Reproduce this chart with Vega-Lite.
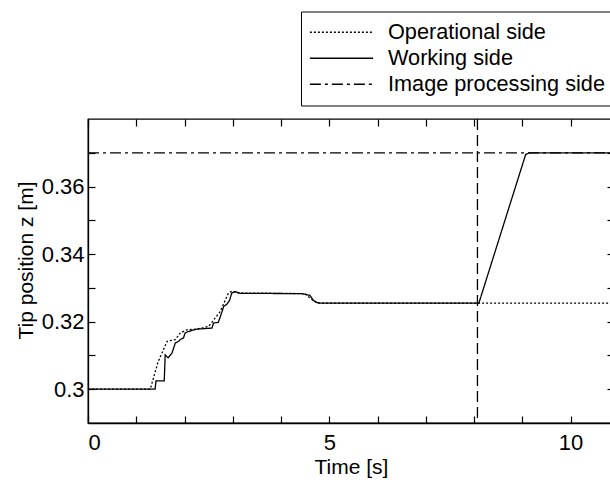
{
  "$schema": "https://vega.github.io/schema/vega-lite/v6.json",
  "autosize": "none",
  "width": 526,
  "height": 304,
  "padding": {"left": 88, "top": 119, "right": 0, "bottom": 59},
  "background": "white",
  "config": {
    "font": "Liberation Sans",
    "view": {"stroke": "black", "strokeWidth": 1.3},
    "axis": {
      "domainColor": "black", "domainWidth": 1.3,
      "tickColor": "black", "tickWidth": 1.2, "tickSize": -7,
      "labelColor": "black", "labelFont": "Liberation Sans", "labelFontSize": 22,
      "titleColor": "black", "titleFont": "Liberation Sans", "titleFontSize": 21, "titleFontWeight": "normal",
      "grid": false
    },
    "legend": {
      "orient": "none", "legendX": 213, "legendY": -107.5,
      "strokeColor": "black", "fillColor": "white", "padding": 8,
      "symbolType": "stroke", "symbolSize": 4000, "clipHeight": 25.5,
      "symbolStrokeColor": "black", "symbolStrokeWidth": 1.3,
      "labelFont": "Liberation Sans", "labelFontSize": 21.7, "labelColor": "black",
      "labelLimit": 400, "labelOffset": 14, "rowPadding": 0
    }
  },
  "datasets": {
    "main": [
      {"s": "Working side", "t": 0, "z": 0.3},
      {"s": "Working side", "t": 1.39, "z": 0.3},
      {"s": "Working side", "t": 1.41, "z": 0.3025},
      {"s": "Working side", "t": 1.58, "z": 0.3025},
      {"s": "Working side", "t": 1.6, "z": 0.3102},
      {"s": "Working side", "t": 1.66, "z": 0.3093},
      {"s": "Working side", "t": 1.74, "z": 0.3107},
      {"s": "Working side", "t": 1.81, "z": 0.3137},
      {"s": "Working side", "t": 1.88, "z": 0.3142},
      {"s": "Working side", "t": 1.91, "z": 0.3147},
      {"s": "Working side", "t": 1.98, "z": 0.3152},
      {"s": "Working side", "t": 2.01, "z": 0.3166},
      {"s": "Working side", "t": 2.08, "z": 0.3171},
      {"s": "Working side", "t": 2.26, "z": 0.3178},
      {"s": "Working side", "t": 2.57, "z": 0.3181},
      {"s": "Working side", "t": 2.6, "z": 0.3196},
      {"s": "Working side", "t": 2.7, "z": 0.3198},
      {"s": "Working side", "t": 2.77, "z": 0.3226},
      {"s": "Working side", "t": 2.81, "z": 0.3245},
      {"s": "Working side", "t": 2.88, "z": 0.3252},
      {"s": "Working side", "t": 2.93, "z": 0.3262},
      {"s": "Working side", "t": 2.98, "z": 0.3285},
      {"s": "Working side", "t": 3.05, "z": 0.3289},
      {"s": "Working side", "t": 3.15, "z": 0.3284},
      {"s": "Working side", "t": 4.43, "z": 0.3283},
      {"s": "Working side", "t": 4.6, "z": 0.3278},
      {"s": "Working side", "t": 4.67, "z": 0.3263},
      {"s": "Working side", "t": 4.74, "z": 0.3257},
      {"s": "Working side", "t": 4.8, "z": 0.3255},
      {"s": "Working side", "t": 8.1, "z": 0.3255},
      {"s": "Working side", "t": 9.07, "z": 0.3695},
      {"s": "Working side", "t": 9.15, "z": 0.37},
      {"s": "Working side", "t": 10.9, "z": 0.37},
      {"s": "Operational side", "t": 0, "z": 0.3},
      {"s": "Operational side", "t": 1.29, "z": 0.3},
      {"s": "Operational side", "t": 1.45, "z": 0.308},
      {"s": "Operational side", "t": 1.64, "z": 0.3142},
      {"s": "Operational side", "t": 1.81, "z": 0.3147},
      {"s": "Operational side", "t": 1.91, "z": 0.3166},
      {"s": "Operational side", "t": 2.05, "z": 0.3176},
      {"s": "Operational side", "t": 2.26, "z": 0.3178},
      {"s": "Operational side", "t": 2.5, "z": 0.3186},
      {"s": "Operational side", "t": 2.74, "z": 0.323},
      {"s": "Operational side", "t": 2.91, "z": 0.3285},
      {"s": "Operational side", "t": 2.98, "z": 0.329},
      {"s": "Operational side", "t": 3.1, "z": 0.3285},
      {"s": "Operational side", "t": 4.5, "z": 0.3283},
      {"s": "Operational side", "t": 4.6, "z": 0.327},
      {"s": "Operational side", "t": 4.75, "z": 0.3255},
      {"s": "Operational side", "t": 10.9, "z": 0.3255}
    ],
    "image": [
      {"s": "Image processing side", "t": 0, "z": 0.37},
      {"s": "Image processing side", "t": 10.9, "z": 0.37}
    ],
    "vline": [
      {"t": 8.07}
    ]
  },
  "resolve": {"axis": {"x": "independent", "y": "independent"}},
  "layer": [
    {
      "data": {"name": "main"},
      "mark": {"type": "line", "strokeWidth": 1.3, "color": "black", "clip": true},
      "encoding": {
        "x": {"field": "t", "type": "quantitative",
          "scale": {"domain": [0, 10.9], "nice": false, "zero": false},
          "axis": {"orient": "bottom", "title": "Time [s]", "values": [0,1,2,3,4,5,6,7,8,9,10],
            "labelExpr": "datum.value % 5 == 0 ? datum.label : ''", "labelPadding": 16, "titlePadding": 3}},
        "y": {"field": "z", "type": "quantitative",
          "scale": {"domain": [0.29, 0.38], "nice": false, "zero": false},
          "axis": {"orient": "left", "title": "Tip position  z [m]",
            "values": [0.30, 0.31, 0.32, 0.33, 0.34, 0.35, 0.36, 0.37],
            "labelExpr": "abs(datum.value*100 - round(datum.value*50)*2) < 0.01 ? format(datum.value, '~g') : ''",
            "labelPadding": 11, "titleX": -62, "titleY": 141, "titleBaseline": "middle"}},
        "strokeDash": {"field": "s", "type": "nominal",
          "scale": {"domain": ["Operational side", "Working side", "Image processing side"],
                    "range": [[2, 2], [1, 0], [11, 4, 3, 4]]},
          "legend": {"title": null}},
        "order": {"field": "t", "type": "quantitative"}
      }
    },
    {
      "data": {"name": "image"},
      "mark": {"type": "line", "strokeWidth": 1.3, "color": "black", "clip": true},
      "encoding": {
        "x": {"field": "t", "type": "quantitative",
          "axis": {"orient": "top", "title": null, "labels": false, "values": [0,1,2,3,4,5,6,7,8,9,10], "domain": false}},
        "y": {"field": "z", "type": "quantitative",
          "axis": {"orient": "right", "title": null, "labels": false,
            "values": [0.30, 0.31, 0.32, 0.33, 0.34, 0.35, 0.36, 0.37], "domain": false}},
        "strokeDash": {"field": "s", "type": "nominal", "legend": {"title": null}}
      }
    },
    {
      "data": {"name": "vline"},
      "mark": {"type": "rule", "strokeWidth": 1.3, "color": "black", "strokeDash": [11, 5]},
      "encoding": {
        "x": {"field": "t", "type": "quantitative", "axis": null}
      }
    }
  ]
}
